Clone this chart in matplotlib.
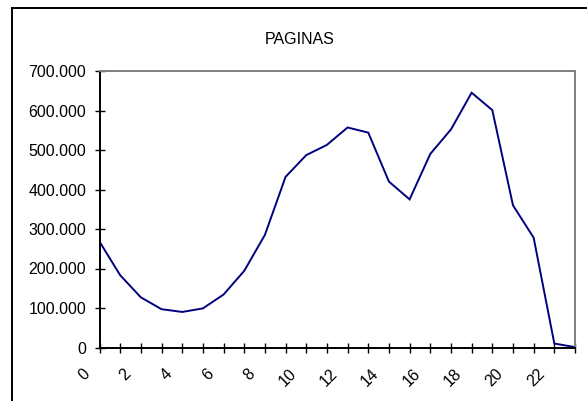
import matplotlib
matplotlib.use("Agg")
import matplotlib.pyplot as plt
from matplotlib.lines import Line2D
from matplotlib.ticker import FuncFormatter, MultipleLocator
from matplotlib.transforms import ScaledTranslation

plt.rcParams['font.family'] = ['Liberation Sans', 'DejaVu Sans']

hours = list(range(24))
paginas = [268000, 183000, 127000, 97000, 90000, 99000, 134000, 194000, 285000,
           432000, 487000, 513000, 557000, 544000, 420000, 375000, 490000, 552000,
           645000, 601000, 360000, 278000, 10000, 1000]
title = "PAGINAS"

fig = plt.figure(figsize=(5.87, 4.01), dpi=100)
ax = fig.add_axes([99.5/587, 1-347.5/401, (575-99.5)/587, (347.5-71)/401])

ax.plot(hours, paginas, color='#000080', linewidth=1.4, solid_joinstyle='miter')
ax.set_xlim(0, 23)
ax.set_ylim(0, 700000)

ax.yaxis.set_major_locator(MultipleLocator(100000))
ax.yaxis.set_major_formatter(FuncFormatter(lambda v, p: "0" if v == 0 else f"{int(v):,}".replace(",", ".")))
ax.set_xticks(range(24))

ax.tick_params(axis='both', direction='inout', length=7, width=1, colors='black',
               labelsize=11.5)
ax.tick_params(axis='y', pad=6)
ax.tick_params(axis='x', pad=10)

ax.set_xticklabels([str(h) if h % 2 == 0 else "" for h in hours], rotation=45,
                   ha='right', va='top', rotation_mode='default')
offset = ScaledTranslation(-7/100, 0, fig.dpi_scale_trans)
for lab in ax.get_xticklabels():
    lab.set_transform(lab.get_transform() + offset)

for s in ['left', 'bottom']:
    ax.spines[s].set_color('black')
    ax.spines[s].set_linewidth(1.4)
for s in ['top', 'right']:
    ax.spines[s].set_color('#808080')
    ax.spines[s].set_linewidth(1.4)

fig.text(300/587, 1-40/401, title, ha='center', va='center', fontsize=11.5)

# outer chart frame (left and top)
fig.add_artist(Line2D([12/587, 12/587], [0, 1-7.5/401], transform=fig.transFigure,
                      color='black', linewidth=1.4))
fig.add_artist(Line2D([12/587, 1], [1-7.5/401, 1-7.5/401], transform=fig.transFigure,
                      color='black', linewidth=1.4))

fig.savefig("out.png", dpi=100)
